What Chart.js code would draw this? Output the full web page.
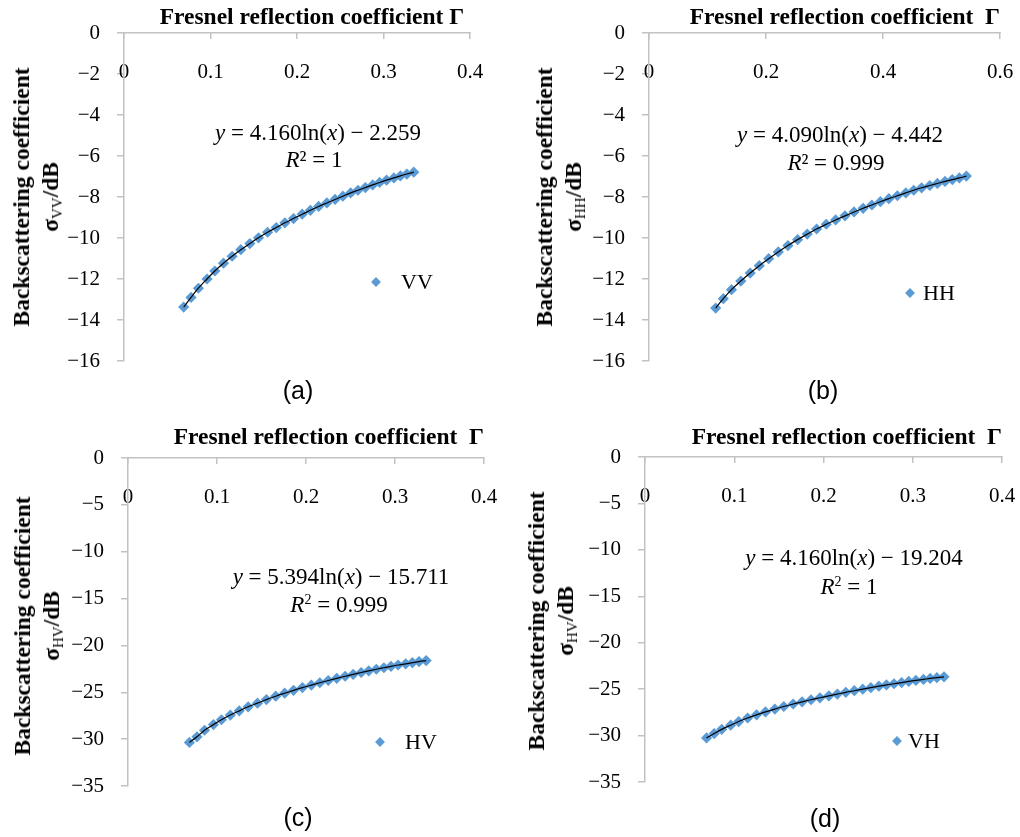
<!DOCTYPE html>
<html>
<head>
<meta charset="utf-8">
<script src="https://cdn.jsdelivr.net/npm/chart.js@4.4.1/dist/chart.umd.min.js"></script>
<style>
  html, body { margin: 0; padding: 0; background: #fff; }
  body { width: 1020px; height: 837px; position: relative; overflow: hidden; font-family: "Liberation Serif", serif; color: #000; }
  canvas { position: absolute; }
  .ytitle { position: absolute; transform: translate(-50%, -50%) rotate(-90deg); white-space: nowrap; text-align: center;
            font-weight: bold; font-size: 23.5px; line-height: 29px; }
  .ytitle sub { font-weight: normal; font-size: 15px; vertical-align: -4px; line-height: 0; }
  .eq { position: absolute; transform: translate(-50%, -50%); white-space: nowrap; font-size: 23px; line-height: 26px; }
  .eq sup { font-size: 14px; vertical-align: 8px; line-height: 0; }
  .mk { position: absolute; width: 7px; height: 7px; background: #5b9bd5; transform: translate(-50%, -50%) rotate(45deg); }
  .lg { position: absolute; transform: translate(0, -50%); font-size: 22px; white-space: nowrap; }
  .tag { position: absolute; transform: translate(-50%, -50%); font-family: "Liberation Sans", Arial, sans-serif; font-size: 25px; }
</style>
</head>
<body>
<canvas id="cA"></canvas>
<canvas id="cB"></canvas>
<canvas id="cC"></canvas>
<canvas id="cD"></canvas>

<div class="ytitle" style="left:36px; top:197px">Backscattering coefficient<br>σ<sub>VV</sub>/dB</div>
<div class="ytitle" style="left:559px; top:197px">Backscattering coefficient<br>σ<sub>HH</sub>/dB</div>
<div class="ytitle" style="left:37px; top:626px">Backscattering coefficient<br>σ<sub>HV</sub>/dB</div>
<div class="ytitle" style="left:551px; top:621px">Backscattering coefficient<br>σ<sub>HV</sub>/dB</div>

<div class="eq" style="left:318px; top:133px"><i>y</i> = 4.160ln(<i>x</i>) − 2.259</div>
<div class="eq" style="left:314px; top:160px"><i>R</i>² = 1</div>
<div class="eq" style="left:840px; top:135px"><i>y</i> = 4.090ln(<i>x</i>) − 4.442</div>
<div class="eq" style="left:836px; top:163px"><i>R</i>² = 0.999</div>
<div class="eq" style="left:341px; top:577px"><i>y</i> = 5.394ln(<i>x</i>) − 15.711</div>
<div class="eq" style="left:339px; top:605px"><i>R</i><sup>2</sup> = 0.999</div>
<div class="eq" style="left:854px; top:558px"><i>y</i> = 4.160ln(<i>x</i>) − 19.204</div>
<div class="eq" style="left:849px; top:587px"><i>R</i><sup>2</sup> = 1</div>

<div class="mk" style="left:376px; top:282px"></div><div class="lg" style="left:401px; top:282px">VV</div>
<div class="mk" style="left:910px; top:293px"></div><div class="lg" style="left:923px; top:293px">HH</div>
<div class="mk" style="left:380px; top:742px"></div><div class="lg" style="left:405px; top:742px">HV</div>
<div class="mk" style="left:897px; top:741px"></div><div class="lg" style="left:908px; top:741px">VH</div>

<div class="tag" style="left:298px; top:390px">(a)</div>
<div class="tag" style="left:823px; top:390px">(b)</div>
<div class="tag" style="left:298px; top:817px">(c)</div>
<div class="tag" style="left:825px; top:818px">(d)</div>

<script>
// Fresnel reflection coefficient (x) and backscattering coefficient (dB)
const gamma = [0.069, 0.0775, 0.086, 0.096, 0.105, 0.115, 0.125, 0.135, 0.1455, 0.1555, 0.166, 0.176, 0.186, 0.196, 0.206,
               0.2155, 0.225, 0.2345, 0.244, 0.253, 0.262, 0.2705, 0.279, 0.2875, 0.2955, 0.3035, 0.312, 0.3195, 0.327, 0.335];
const gammaHH = [0.114, 0.127, 0.141, 0.157, 0.173, 0.1885, 0.2045, 0.221, 0.2375, 0.254, 0.2705, 0.2865, 0.303, 0.319, 0.335,
                 0.3505, 0.366, 0.381, 0.3955, 0.41, 0.4245, 0.439, 0.4525, 0.466, 0.48, 0.493, 0.506, 0.5185, 0.5305, 0.5425];
const sigmaVV = [-13.37, -12.90, -12.45, -12.00, -11.61, -11.23, -10.89, -10.57, -10.27, -9.99, -9.72, -9.49, -9.26, -9.05, -8.84,
                 -8.65, -8.46, -8.29, -8.12, -7.96, -7.80, -7.67, -7.54, -7.41, -7.29, -7.18, -7.07, -6.97, -6.88, -6.79];
const sigmaHH = [-13.42, -12.96, -12.52, -12.10, -11.71, -11.35, -11.01, -10.68, -10.37, -10.08, -9.81, -9.56, -9.33, -9.12, -8.92,
                 -8.73, -8.55, -8.39, -8.23, -8.08, -7.94, -7.80, -7.67, -7.55, -7.44, -7.34, -7.24, -7.15, -7.07, -6.98];
const sigmaHV = [-30.35, -29.75, -29.05, -28.45, -27.93, -27.43, -26.98, -26.55, -26.16, -25.78, -25.42, -25.10, -24.79, -24.50, -24.23,
                 -23.98, -23.74, -23.51, -23.29, -23.08, -22.89, -22.71, -22.54, -22.38, -22.23, -22.09, -21.96, -21.84, -21.72, -21.62];
const sigmaVH = [-30.25, -29.78, -29.33, -28.88, -28.49, -28.11, -27.77, -27.45, -27.15, -26.87, -26.60, -26.37, -26.14, -25.93, -25.72,
                 -25.53, -25.34, -25.17, -25.00, -24.84, -24.68, -24.55, -24.42, -24.29, -24.17, -24.06, -23.95, -23.85, -23.76, -23.67];

// tick labels
const xTicks4 = [0, 0.1, 0.2, 0.3, 0.4];
const xTicks6 = [0, 0.2, 0.4, 0.6];
const yTicks16 = [0, -2, -4, -6, -8, -10, -12, -14, -16];
const yTicks35 = [0, -5, -10, -15, -20, -25, -30, -35];

const axisGray = '#c2c2c2';
const serif = '"Liberation Serif", serif';

function panel(id, box, area, xs, ys, xTicks, yTicks, xTitle) {
    const cv = document.getElementById(id);
    cv.width = box.w;
    cv.height = box.h;
    cv.style.left = box.x + 'px';
    cv.style.top = box.y + 'px';

    const pts = xs.map((x, i) => ({ x: x, y: ys[i] }));

    new Chart(cv, {
        type: 'scatter',
        data: {
            datasets: [
                // trend line on top of the markers
                { data: pts, showLine: true, borderColor: '#000', borderWidth: 1.2, pointRadius: 0,
                  cubicInterpolationMode: 'monotone', fill: false },
                { data: pts, showLine: false, pointStyle: 'rectRot', pointRadius: 5.6,
                  backgroundColor: '#5b9bd5', borderColor: '#5b9bd5', borderWidth: 0 }
            ]
        },
        options: {
            responsive: false,
            animation: false,
            layout: { padding: { left: 0, top: 0, right: box.x + box.w - area.r, bottom: box.y + box.h - area.b } },
            plugins: { legend: { display: false }, tooltip: { enabled: false } },
            scales: {
                x: {
                    type: 'linear',
                    position: 'top',
                    min: xTicks[0],
                    max: xTicks[xTicks.length - 1],
                    afterBuildTicks: s => { s.ticks = xTicks.map(v => ({ value: v })); },
                    afterFit: s => { s.height = area.t - box.y; s.paddingLeft = 0; s.paddingRight = 0; },
                    grid: { drawOnChartArea: false, tickLength: -6, color: axisGray, lineWidth: 1.5 },
                    border: { color: axisGray, width: 1.5 },
                    ticks: { mirror: true, padding: 27, color: '#000', font: { family: serif, size: 21 },
                             callback: v => String(v) },
                    title: { display: true, text: xTitle, align: 'end', color: '#000',
                             font: { family: serif, size: 23.5, weight: 'bold' }, padding: { top: 4, bottom: 0 } }
                },
                y: {
                    type: 'linear',
                    position: 'left',
                    min: yTicks[yTicks.length - 1],
                    max: yTicks[0],
                    afterBuildTicks: s => { s.ticks = yTicks.slice().reverse().map(v => ({ value: v })); },
                    afterFit: s => { s.width = area.l - box.x; s.paddingTop = 0; s.paddingBottom = 0; },
                    grid: { drawOnChartArea: false, tickLength: 7, color: axisGray, lineWidth: 1.5 },
                    border: { color: axisGray, width: 1.5 },
                    ticks: { padding: 17, color: '#000', font: { family: serif, size: 21 },
                             callback: v => String(v).replace('-', '\u2212') }
                }
            }
        }
    });
}

panel('cA', { x: 0, y: 0, w: 505, h: 410 }, { l: 124, t: 33, r: 470, b: 361 },
      gamma, sigmaVV, xTicks4, yTicks16, 'Fresnel reflection coefficient \u0393 ');
panel('cB', { x: 510, y: 0, w: 510, h: 410 }, { l: 649, t: 33, r: 1000, b: 361 },
      gammaHH, sigmaHH, xTicks6, yTicks16, 'Fresnel reflection coefficient  \u0393');
panel('cC', { x: 0, y: 420, w: 505, h: 417 }, { l: 128, t: 458, r: 484, b: 786 },
      gamma, sigmaHV, xTicks4, yTicks35, 'Fresnel reflection coefficient  \u0393');
panel('cD', { x: 510, y: 420, w: 510, h: 417 }, { l: 645, t: 457, r: 1002, b: 782 },
      gamma, sigmaVH, xTicks4, yTicks35, 'Fresnel reflection coefficient  \u0393');
</script>
</body>
</html>
